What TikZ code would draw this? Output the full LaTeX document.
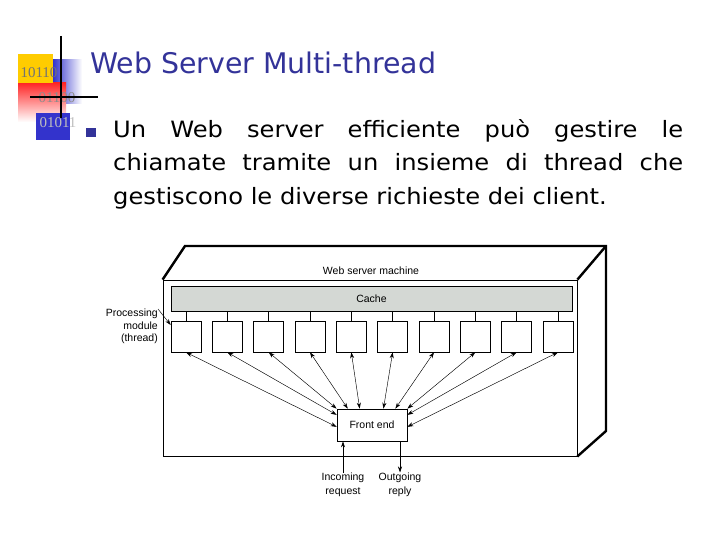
\documentclass[tikz,border=0pt]{standalone}
\usepackage{fontspec}
\setmainfont{DejaVu Sans}
\newfontfamily\bodyfont[FakeStretch=1.075]{DejaVu Sans}
\newfontfamily\diagfont{Liberation Sans}
\newfontfamily\logofont{Liberation Serif}
\usetikzlibrary{arrows.meta,shapes.geometric}
\definecolor{titleblue}{HTML}{333399}
\definecolor{logoblue}{HTML}{3333CC}
\definecolor{logoyellow}{HTML}{FFCC00}
\definecolor{cachegray}{HTML}{D4D8D4}
\tikzset{
  modbox/.style={draw, line width=0.6pt, minimum width=30pt, minimum height=31pt, inner sep=0pt},
  conn/.style={line width=0.45pt, {Stealth[length=6pt,width=4pt]}-{Stealth[length=6pt,width=4pt]}},
  oneway/.style={line width=0.6pt, -{Stealth[length=6pt,width=4pt]}},
  thickedge/.style={line width=2.4pt, line join=miter},
  dlabel/.style={font=\diagfont\fontsize{10.5}{12}\selectfont, inner sep=0pt},
  logotext/.style={font=\logofont\fontsize{15}{15}\selectfont, inner sep=0pt}
}
\begin{document}
\begin{tikzpicture}[x=1pt,y=-1pt]
\useasboundingbox (0,0) rectangle (720,540);
% ---- logo ----
\shade[left color=logoblue, right color=white] (53,60) rectangle (82,104);
\shade[top color=red!85, bottom color=white] (18,83) rectangle (66,122);
\fill[logoyellow] (18,54) rectangle (53,83);
\fill[logoblue] (36,113) rectangle (70,140);
\node[logotext, text=black!55] (l1) at (39,73) {10110};
\node[logotext, text=black!45] (l2) at (57,98) {01100};
\node[logotext, text=black!25] (l3) at (58,123) {01011};
\draw[line width=2.6pt] (61,36) -- (61,118);
\draw[line width=2.6pt] (30,97) -- (98,97);
% ---- title ----
\node[anchor=west, text=titleblue, inner sep=0pt, font=\fontsize{28.4}{30}\selectfont] (title) at (90,63) {Web Server Multi-thread};
% ---- bullet ----
\fill[titleblue] (86,128) rectangle (96,137);
\node[anchor=north west, inner sep=0pt, font=\bodyfont\fontsize{22.5}{33.5}\selectfont, align=left] (body) at (113,119)
 {\makebox[570pt][s]{Un Web server efficiente può gestire le}\\
  \makebox[570pt][s]{chiamate tramite un insieme di thread che}\\
  gestiscono le diverse richieste dei client.};
% ---- machine ----
\node[draw, line width=0.8pt, minimum width=414pt, minimum height=176pt, inner sep=0pt] (mach) at (370,368) {};
\draw[thickedge] (mach.north west) -- (185,246) -- (606,246) -- (606,431) -- (mach.south east);
\draw[thickedge] (mach.north east) -- (606,246);
\node[dlabel] (wsm) at (371,271) {Web server machine};
\node[draw, line width=0.6pt, fill=cachegray, minimum width=401pt, minimum height=25pt, inner sep=0pt, font=\diagfont\fontsize{10.5}{12}\selectfont] (cache) at (371.5,298.5) {Cache};
\foreach \i in {0,...,9} {
  \node[modbox] (m\i) at ({186+41.33*\i},336.5) {};
  \draw[line width=0.6pt] (cache.south -| m\i.north) -- (m\i.north);
}
\node[draw, line width=0.7pt, minimum width=70pt, minimum height=32pt, inner sep=0pt, font=\diagfont\fontsize{10.5}{12}\selectfont] (fe) at (372,425) {Front end};
\draw[conn] (m0.south) -- (fe.183);
\draw[conn] (m1.south) -- (fe.164);
\draw[conn] (m2.south) -- (fe.north west);
\draw[conn] (m3.south) -- (fe.146);
\draw[conn] (m4.south) -- (fe.127);
\draw[conn] (m5.south) -- (fe.55);
\draw[conn] (m6.south) -- (fe.35);
\draw[conn] (m7.south) -- (fe.north east);
\draw[conn] (m8.south) -- (fe.16);
\draw[conn] (m9.south) -- (fe.-3);
% processing module label
\node[dlabel, anchor=north east, align=right, font=\diagfont\fontsize{10.5}{12.5}\selectfont] (pm) at (158,309) {Processing\\module\\(thread)};
\draw[oneway, line width=0.45pt] (pm.north east) -- (m0.143);
% incoming / outgoing
\node[dlabel, align=center, anchor=north, font=\diagfont\fontsize{10.5}{14}\selectfont] (inc) at (343,472.5) {Incoming\\request};
\node[dlabel, align=center, anchor=north, font=\diagfont\fontsize{10.5}{14}\selectfont] (out) at (400,472.5) {Outgoing\\reply};
\draw[oneway] (inc.north) -- (inc.north |- fe.south);
\draw[oneway] (out.north |- fe.south) -- (out.north);
\end{tikzpicture}
\end{document}
